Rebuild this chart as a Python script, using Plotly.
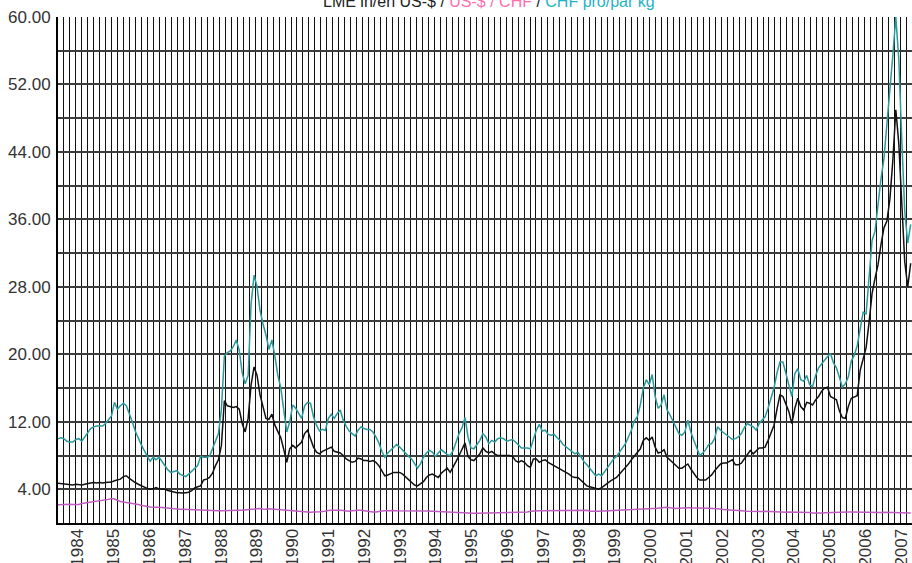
import plotly.graph_objects as go

# month index 0 = Oct 1983, monthly to 2007
months = list(range(288))
years = list(range(1984, 2008))
year_labels = [str(y) for y in years]
y_tick_vals = [4, 12, 20, 28, 36, 44, 52, 60]
y_tick_text = ["%.2f" % v for v in y_tick_vals]

# LME nickel in US-$ per kg
lme_usd = [
    4.7, 4.65, 4.6, 4.55, 4.5, 4.5, 4.6, 4.55, 4.5, 4.6,
    4.7, 4.75, 4.8, 4.75, 4.8, 4.75, 4.8, 4.8, 4.85, 5.0,
    5.1, 5.2, 5.5, 5.6, 5.3, 5.0, 4.8, 4.6, 4.4, 4.25,
    4.1, 4.0, 4.05, 4.2, 4.05, 4.0, 4.0, 3.85, 3.75, 3.65,
    3.6, 3.6, 3.55, 3.6, 3.65, 3.85, 4.15, 4.3, 4.4, 5.1,
    5.2, 5.4, 5.9, 6.8, 7.5, 9.2, 14.5, 13.9, 13.8, 13.7,
    13.8, 13.5, 11.8, 10.8, 12.4, 16.4, 18.5, 17.5, 15.2, 13.6,
    12.4, 12.3, 12.9, 11.6, 10.8, 10.1, 8.7, 7.2, 8.8, 9.2,
    8.9, 9.2, 9.6, 10.6, 11.0, 10.0, 9.0, 8.4, 8.2, 8.5,
    8.7, 8.9, 9.0, 8.5, 8.4, 8.3, 8.0, 7.6, 7.4, 7.2,
    7.3, 7.7, 7.6, 7.4, 7.4, 7.3, 7.4, 7.2, 6.8, 6.2,
    5.6, 5.7, 5.9, 6.0, 6.0, 6.0, 5.8, 5.5, 5.1, 4.8,
    4.5, 4.4, 4.6, 4.9, 5.4, 5.7, 5.8, 5.6, 5.4, 5.9,
    6.2, 6.5, 6.0, 6.6, 7.3, 8.0, 8.8, 9.5, 7.9, 7.5,
    7.4, 7.8, 8.2, 8.9, 8.5, 8.3, 8.5, 8.2, 8.0, 8.0,
    8.0, 8.0, 8.0, 7.9, 7.4, 7.2, 7.4, 7.2, 6.8, 6.6,
    7.6, 7.6, 7.2, 7.4, 7.5, 7.2, 7.0, 6.8, 6.6, 6.5,
    6.3, 6.1, 5.8, 5.5, 5.4, 5.4, 5.1, 4.8, 4.4, 4.3,
    4.2, 4.1, 4.0, 4.2, 4.5, 4.8, 5.0, 5.2, 5.4, 5.8,
    6.2, 6.5, 7.0, 7.5, 7.9, 8.3, 8.8, 9.8, 10.1, 9.8,
    10.2, 9.0, 8.3, 8.4, 8.7, 7.8, 7.5, 7.2, 6.8, 6.5,
    6.5, 6.8, 7.0, 6.4, 5.9, 5.4, 5.1, 5.1, 5.1, 5.4,
    5.7, 6.2, 6.6, 7.0, 7.1, 7.1, 7.3, 7.5, 6.9, 6.9,
    7.1, 7.6, 8.2, 8.6, 8.2, 8.6, 8.9, 8.9, 9.0, 9.8,
    10.8, 11.6, 13.5, 15.2, 15.0, 14.1, 13.2, 11.8, 13.6, 14.8,
    13.8, 13.4, 14.3, 14.2, 14.0, 14.6, 15.0, 15.6, 16.0, 16.1,
    15.0, 14.8, 14.6, 13.3, 12.5, 12.4, 13.8, 14.8, 15.0, 15.1,
    18.1, 19.6, 20.8, 23.8, 27.2, 29.0, 30.6, 33.0, 35.0, 35.8,
    38.4, 43.0, 49.0, 45.0, 37.5, 31.0, 28.0, 30.8,
]

# US-$ / CHF
usd_chf = [
    2.15, 2.18, 2.2,
    2.2, 2.22, 2.18, 2.15, 2.2, 2.3, 2.35, 2.45, 2.45, 2.5, 2.55, 2.6,
    2.65, 2.72, 2.8, 2.9, 2.85, 2.7, 2.55, 2.5, 2.45, 2.4, 2.35, 2.28,
    2.2, 2.1, 2.0, 1.95, 1.9, 1.9, 1.9, 1.88, 1.85, 1.8, 1.75, 1.7,
    1.68, 1.65, 1.63, 1.62, 1.6, 1.6, 1.58, 1.56, 1.55, 1.52, 1.5, 1.48,
    1.46, 1.45, 1.45, 1.45, 1.45, 1.47, 1.5, 1.52, 1.55, 1.55, 1.52, 1.5,
    1.52, 1.58, 1.6, 1.65, 1.7, 1.72, 1.65, 1.62, 1.68, 1.65, 1.6, 1.55,
    1.5, 1.5, 1.48, 1.45, 1.42, 1.4, 1.38, 1.3, 1.3, 1.28, 1.28, 1.3,
    1.28, 1.32, 1.35, 1.45, 1.48, 1.5, 1.55, 1.52, 1.5, 1.45, 1.42, 1.38,
    1.45, 1.5, 1.52, 1.5, 1.45, 1.38, 1.3, 1.3, 1.3, 1.38, 1.42, 1.45,
    1.48, 1.5, 1.48, 1.45, 1.45, 1.48, 1.5, 1.45, 1.42, 1.45, 1.48, 1.48,
    1.45, 1.45, 1.42, 1.4, 1.38, 1.35, 1.33, 1.3, 1.28, 1.28, 1.3, 1.3,
    1.28, 1.2, 1.15, 1.15, 1.15, 1.17, 1.17, 1.18, 1.17, 1.15, 1.15, 1.16,
    1.18, 1.2, 1.2, 1.2, 1.22, 1.24, 1.22, 1.22, 1.22, 1.25, 1.28, 1.3,
    1.38, 1.42, 1.45, 1.45, 1.45, 1.45, 1.48, 1.5, 1.5, 1.48, 1.45, 1.45,
    1.48, 1.48, 1.5, 1.52, 1.5, 1.5, 1.5, 1.5, 1.4, 1.35, 1.38, 1.38,
    1.4, 1.42, 1.45, 1.48, 1.5, 1.52, 1.52, 1.55, 1.55, 1.58, 1.62, 1.65,
    1.68, 1.7, 1.72, 1.75, 1.75, 1.72, 1.72, 1.78, 1.82, 1.85, 1.88, 1.8,
    1.72, 1.72, 1.75, 1.8, 1.82, 1.82, 1.8, 1.78, 1.75, 1.72, 1.74, 1.76,
    1.76, 1.75, 1.72, 1.68, 1.65, 1.6, 1.55, 1.52, 1.5, 1.5, 1.5, 1.48,
    1.42, 1.4, 1.38, 1.4, 1.36, 1.35, 1.36, 1.4, 1.38, 1.35, 1.33, 1.3,
    1.27, 1.26, 1.28, 1.3, 1.3, 1.28, 1.26, 1.26, 1.27, 1.26, 1.24, 1.2,
    1.18, 1.18, 1.2, 1.21, 1.23, 1.25, 1.28, 1.28, 1.28, 1.29, 1.3, 1.31,
    1.31, 1.3, 1.3, 1.28, 1.25, 1.23, 1.23, 1.24, 1.25, 1.25, 1.25, 1.26,
    1.25, 1.24, 1.24, 1.23, 1.23, 1.23, 1.22, 1.2, 1.19,
]

# CHF per kg
chf_kg = [
    10.0, 10.1, 10.0, 9.7, 9.6, 9.6, 9.9, 10.0, 9.7, 10.2,
    10.7, 11.2, 11.4, 11.5, 11.5, 11.5, 11.8, 12.2, 12.7, 14.3,
    13.5, 13.9, 14.2, 13.9, 13.0, 12.0, 10.9, 10.0, 9.3, 8.6,
    8.0, 7.3, 7.8, 7.5, 7.8, 7.3, 6.8, 6.3, 6.0, 6.1,
    6.2, 5.8, 5.6, 5.5, 5.8, 6.1, 6.4, 6.8, 7.9, 7.8,
    7.8, 7.9, 8.8, 9.6, 10.6, 13.5, 19.8, 20.2, 20.4, 20.9,
    21.7, 20.5, 17.8, 16.5, 17.5, 26.0, 29.4, 28.0, 25.2, 23.6,
    22.3, 20.6, 21.7, 19.8, 17.5, 16.0, 13.6, 10.8, 12.0, 14.0,
    13.6, 13.0, 12.4, 13.9, 14.3, 14.2, 12.6, 11.6, 10.9, 11.1,
    11.0, 12.4, 12.9, 12.4, 13.0, 13.4, 12.2, 11.5, 10.9, 10.6,
    10.3, 11.0, 11.4, 11.2, 11.1, 11.1, 10.8, 10.2, 9.5, 8.5,
    7.8, 8.3, 8.6, 9.0, 9.3, 9.0, 8.6, 8.3, 7.9, 7.6,
    7.0, 6.5, 7.0, 7.8, 8.3, 8.6, 8.4, 7.9, 8.3, 8.7,
    8.4, 8.1, 8.0, 8.6, 9.6, 10.6, 11.3, 12.5, 10.2, 8.9,
    8.8, 9.3, 9.8, 10.6, 10.2, 9.4, 9.8, 9.6, 10.0, 10.1,
    10.0, 9.7, 9.8, 9.9, 9.6, 9.2, 8.9, 8.9, 8.9, 8.8,
    10.0, 11.0, 11.7, 10.9, 11.0, 10.5, 10.4, 10.5, 10.1, 9.8,
    9.3, 9.0, 8.7, 8.4, 8.2, 8.4, 7.8, 7.3, 6.9, 6.5,
    6.0, 5.6, 5.8, 5.6, 6.1, 6.6, 7.2, 7.6, 7.9, 8.4,
    8.9, 9.4, 10.2, 11.0, 12.1, 12.6, 14.0, 16.0, 17.0, 16.4,
    17.6, 15.0, 13.6, 14.0, 15.2, 13.4, 12.8, 12.0, 11.2, 10.6,
    10.4, 10.8, 12.2, 10.8, 9.8, 8.9, 8.0, 8.3, 8.7, 9.3,
    9.4, 10.0, 11.4, 11.0, 10.7, 10.5, 10.2, 9.9, 10.0, 10.2,
    10.6, 11.3, 11.8, 11.6, 11.4, 11.0, 11.8, 12.2, 12.6, 13.6,
    14.8, 16.0, 17.8, 19.1, 19.1, 17.8, 16.6, 15.0, 17.7, 18.3,
    17.0, 16.8, 17.5, 16.4, 16.2, 17.5, 18.4, 18.9, 19.3, 19.7,
    20.1, 19.0, 18.4, 17.3, 16.1, 16.5, 17.3, 19.2, 19.9, 21.0,
    22.9, 25.0, 24.8, 29.0, 33.5, 34.6, 37.8, 40.8, 43.2, 47.0,
    51.0, 55.5, 60.0, 55.0, 45.5, 37.0, 33.2, 35.4,
]

# pixel geometry of the reference (used only for axis placement)
PX_PER_MONTH = 2.971
label_pos = [(19.8 + 35.8 * (y - 1984)) / PX_PER_MONTH for y in years]

fig = go.Figure()
fig.add_trace(go.Scatter(x=months, y=usd_chf, mode="lines",
                         line=dict(color="#c25cc2", width=1.5), hoverinfo="skip"))
fig.add_trace(go.Scatter(x=months, y=lme_usd, mode="lines",
                         line=dict(color="#111111", width=1.5), hoverinfo="skip"))
fig.add_trace(go.Scatter(x=months, y=chf_kg, mode="lines",
                         line=dict(color="#2b9a9c", width=1.5), hoverinfo="skip"))

font_family = "Liberation Sans, Arial, Helvetica, sans-serif"

fig.update_layout(
    width=912, height=563,
    margin=dict(l=58, r=0, t=17, b=40, pad=0, autoexpand=False),
    paper_bgcolor="white", plot_bgcolor="white",
    showlegend=False,
    font=dict(family=font_family, size=17, color="#333333"),
    xaxis=dict(
        range=[0, 854 / PX_PER_MONTH], automargin=False,
        tickmode="array", tickvals=label_pos, ticktext=year_labels,
        tickangle=-90, ticks="", showgrid=False, zeroline=False,
        showline=True, linecolor="black", linewidth=2,
        ticklabelstandoff=-3,
        minor=dict(tick0=0, dtick=2.011, showgrid=True, gridcolor="#111111",
                   gridwidth=1, ticks=""),
        fixedrange=True,
    ),
    yaxis=dict(
        range=[0, 60], automargin=False,
        tickmode="array", tickvals=y_tick_vals, ticktext=y_tick_text,
        ticks="", showgrid=True, gridcolor="#3c3c3c", gridwidth=2,
        zeroline=False, showline=True, linecolor="black", linewidth=2,
        ticklabelstandoff=2,
        minor=dict(tick0=0, dtick=4, showgrid=True, gridcolor="#3c3c3c",
                   gridwidth=2),
        fixedrange=True,
    ),
    annotations=[dict(
        xref="paper", yref="paper", x=(489 - 58) / 854, y=1,
        xanchor="center", yanchor="bottom", yshift=5, showarrow=False,
        text=("LME in/en US-$ / <span style='color:#ff6fae'>US-$ / CHF</span>"
              " / <span style='color:#1fb3c4'>CHF pro/par kg</span>"),
        font=dict(family=font_family, size=16, color="#222222"),
    )],
)

fig.write_html(
    "out.html",
    config={"displayModeBar": False, "staticPlot": True},
    post_script="document.body.style.margin='0';document.body.style.overflow='hidden';",
)
